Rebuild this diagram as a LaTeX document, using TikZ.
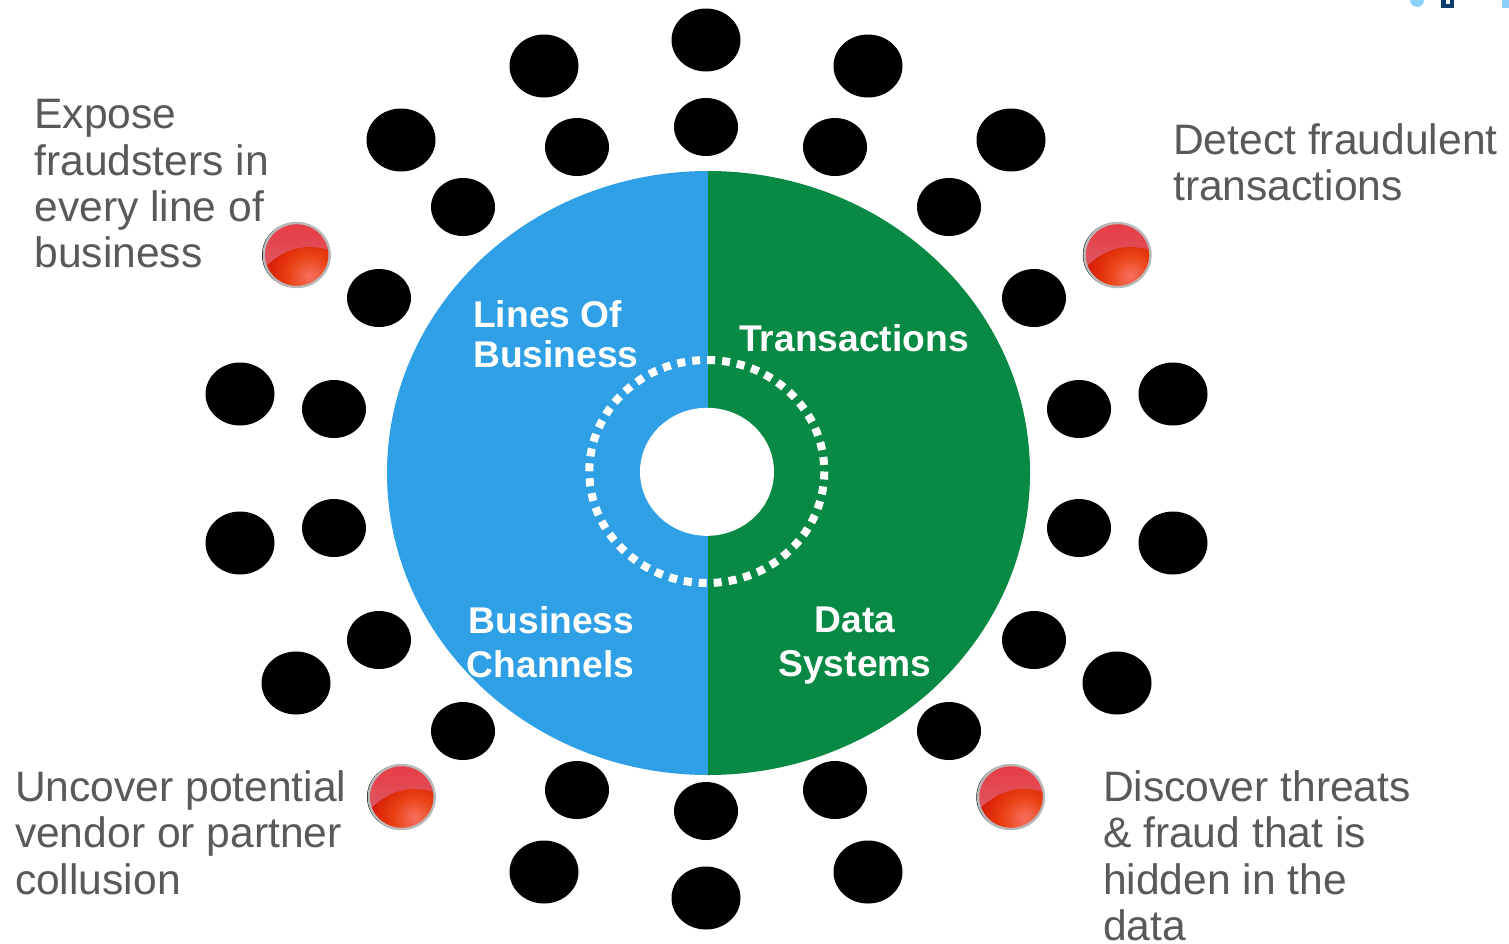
\documentclass[tikz,border=0pt]{standalone}
\usepackage{fontspec}
\setmainfont{Liberation Sans}
\usetikzlibrary{shapes.geometric}
\definecolor{wheelblue}{HTML}{30A0E6}
\definecolor{wheelgreen}{HTML}{088A44}
\definecolor{labelgray}{HTML}{595959}
\definecolor{chipnavy}{HTML}{0B3C6E}
\definecolor{chipsky}{HTML}{8AD0F8}
\definecolor{btntop}{HTML}{E83C44}
\definecolor{btnlow}{HTML}{DE5560}
\definecolor{btnhot}{HTML}{F87060}
\definecolor{btnmid}{HTML}{E84010}
\definecolor{btnred}{HTML}{CC0000}
\definecolor{btnring}{HTML}{B8B8B8}
\pgfdeclareradialshading{btnglow}{\pgfpoint{0bp}{0bp}}{color(0bp)=(btnhot); color(9bp)=(btnmid); color(24bp)=(btnred); color(50bp)=(btnred)}
\tikzset{
  outerdot/.style={fill=black,x radius=34.5,y radius=31.5},
  innerdot/.style={fill=black,x radius=32,y radius=29},
  sidelabel/.style={text=labelgray,anchor=north west,inner sep=0pt,align=left,font=\fontsize{42.6}{46.3}\selectfont},
  wheellabel/.style={text=white,anchor=north west,inner sep=0pt,align=left,font=\bfseries\fontsize{37.2}{40}\selectfont},
  wheellabelwide/.style={wheellabel,font=\bfseries\fontsize{37.2}{44}\selectfont},
}
\newcommand{\redbutton}[2]{%
  \fill[black] (#1-1.2,#2) ellipse [x radius=33.5,y radius=32.5];
  \begin{scope}
    \clip (#1,#2) ellipse [x radius=33,y radius=32];
    \fill[top color=btntop,bottom color=btnlow] (#1-34,#2-33) rectangle (#1+34,#2+10);
    \clip (#1-40,#2+40) -- (#1-40,#2+20) .. controls (#1-22,#2+2) and (#1-8,#2-8) .. (#1+13,#2-8) .. controls (#1+22,#2-8) and (#1+30,#2-6) .. (#1+40,#2-3) -- (#1+40,#2+40) -- cycle;
    \shade[shading=btnglow] (#1+13,#2+21) circle [radius=62];
  \end{scope}
  \draw[btnring,line width=2.4] (#1,#2) ellipse [x radius=33,y radius=32];
}
\begin{document}
\begin{tikzpicture}[x=1pt,y=-1pt]
\useasboundingbox (0,0) rectangle (1509,943);
% wheel
\fill[wheelblue] (708,171) arc [start angle=-90,end angle=-270,x radius=321,y radius=302] -- cycle;
\fill[wheelgreen] (708,171) arc [start angle=-90,end angle=90,x radius=322,y radius=302] -- cycle;
\fill[white] (707,471.8) ellipse [x radius=67,y radius=64];
\draw[white,line width=8,dash pattern=on 8 off 7] (706.8,471.5) ellipse [x radius=117.5,y radius=111.5];
% outer dots
\foreach \x/\y in {706/40,544/66,868/66,401/140,1011/140,240/394,1173/394,240/543,1173/543,296/683,1117/683,544/872,868/872,706/898}
  \fill[outerdot] (\x,\y) ellipse [];
% inner dots
\foreach \x/\y in {706/127,577/147,835/147,463/207,949/207,379/298,1034/298,334/409,1079/409,334/528,1079/528,379/640,1034/640,463/731,949/731,577/790,835/790,706/811}
  \fill[innerdot] (\x,\y) ellipse [];
% buttons
\redbutton{296.7}{255}
\redbutton{1117.5}{255}
\redbutton{401.7}{797}
\redbutton{1011}{797}
% corner chips
\fill[chipsky] (1417,0) circle [radius=7];
\fill[chipnavy] (1441,0) rectangle (1454,8);
\fill[white] (1446,0) rectangle (1450,4);
\fill[chipsky] (1502,0) rectangle (1509,8);
% side labels
\node[sidelabel] (fraudsters) at (34.2,99.2) {Expose\\fraudsters in\\every line of\\business};
\node[sidelabel] (transactionsnote) at (1173,123.4) {Detect fraudulent\\transactions};
\node[sidelabel] (collusion) at (14.8,770.4) {Uncover potential\\vendor or partner\\collusion};
\node[sidelabel] (threats) at (1102.8,770.4) {Discover threats\\\& fraud that is\\hidden in the\\data};
% wheel labels
\node[wheellabel] (lob) at (473,300) {Lines Of\\Business};
\node[wheellabel] (trans) at (739,324) {Transactions};
\node[wheellabelwide] (channels) at (466.6,606) {\hspace*{2pt}Business\\Channels};
\node[wheellabelwide,align=center,anchor=north] (data) at (855,607) {Data\\Systems};
\end{tikzpicture}
\end{document}
